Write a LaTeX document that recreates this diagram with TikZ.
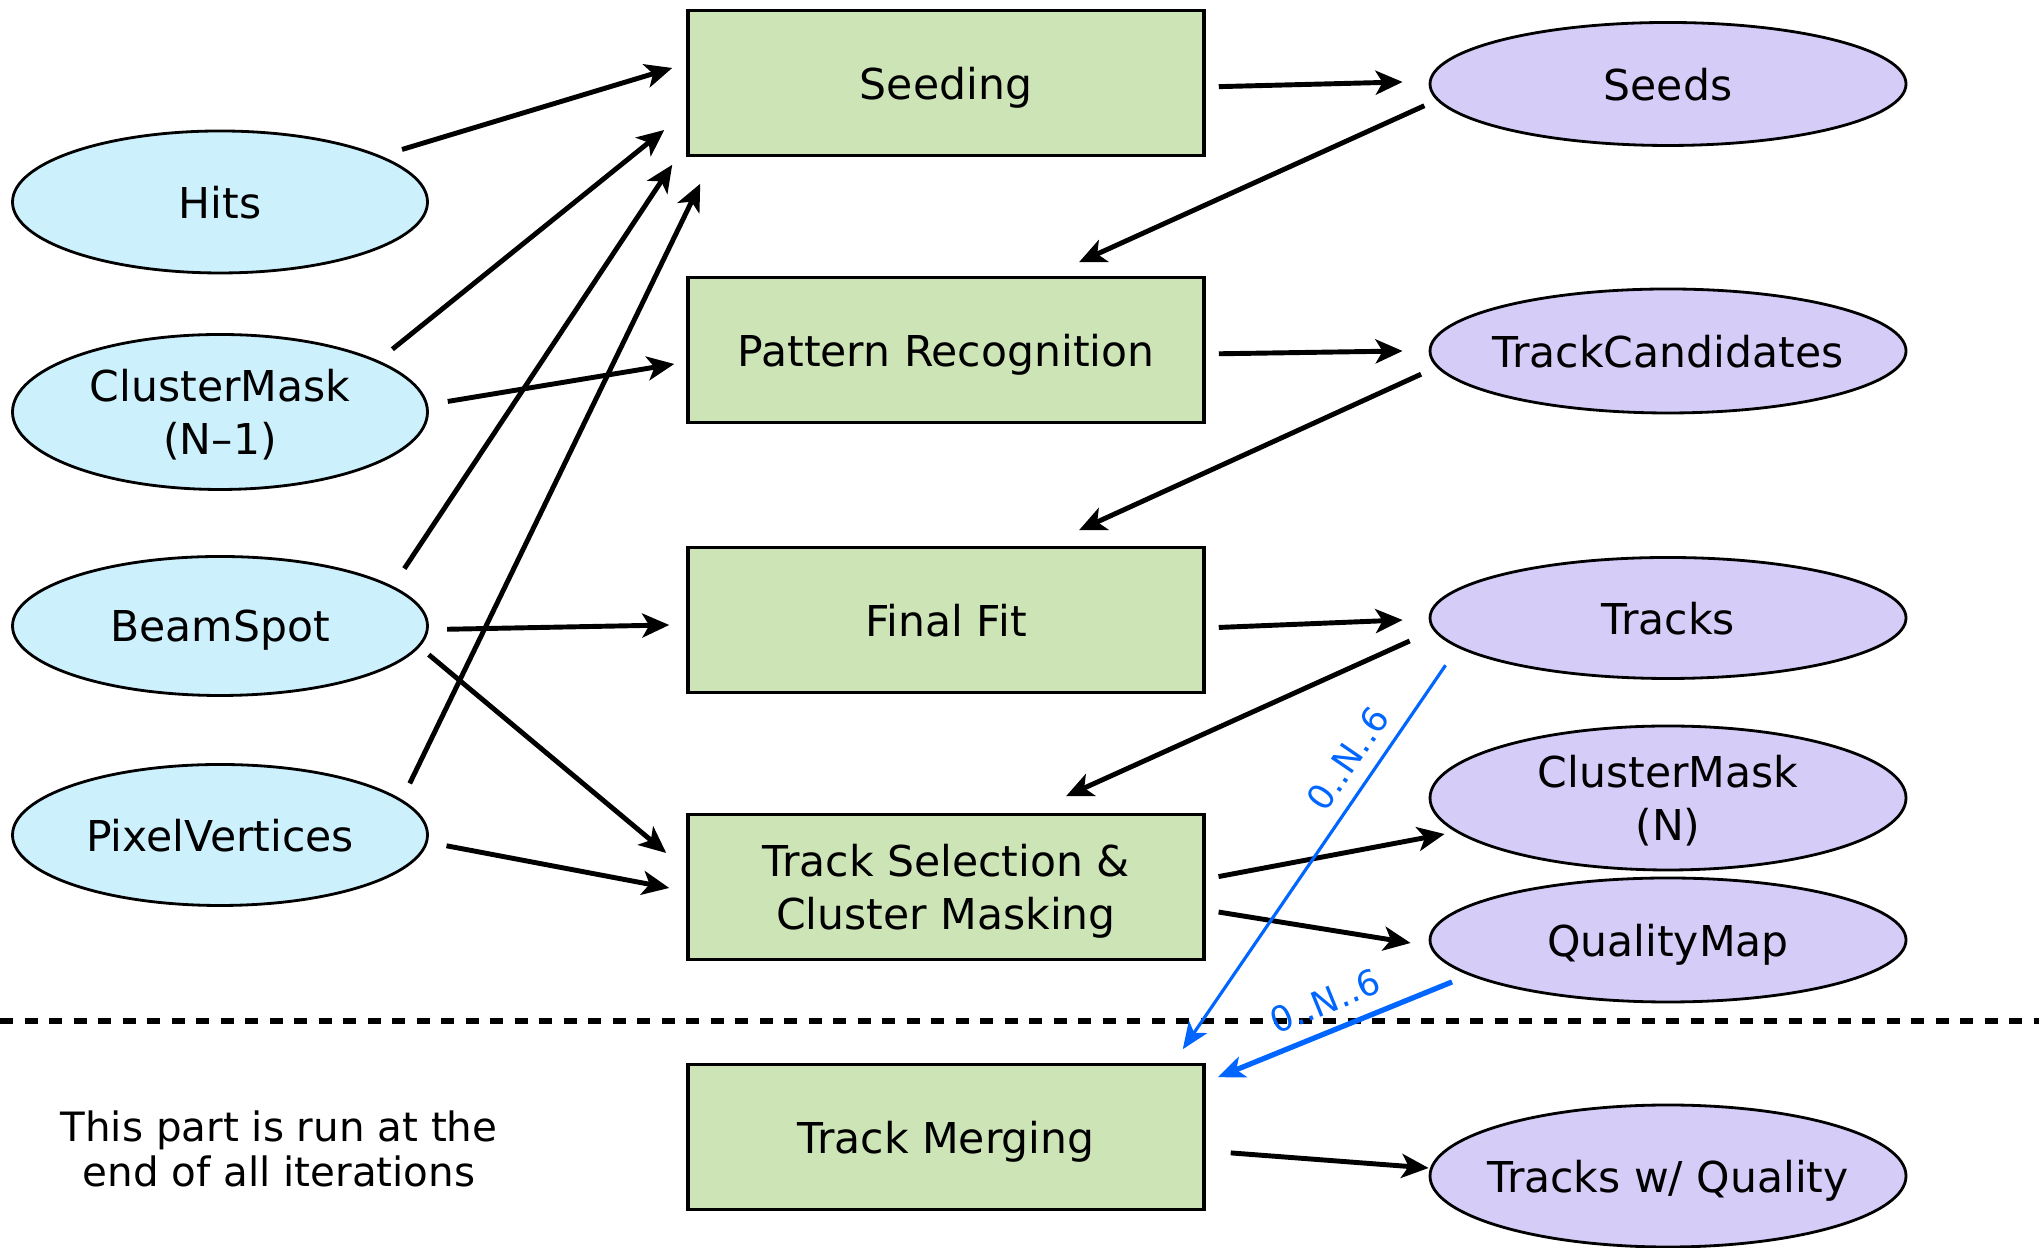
\documentclass[tikz,border=0pt]{standalone}
\usepackage{fontspec}
\setmainfont{DejaVu Sans}
\usepackage{tikz}
\usetikzlibrary{shapes.geometric,arrows.meta}

\definecolor{inblue}{RGB}{205,240,253}
\definecolor{outviolet}{RGB}{213,204,247}
\definecolor{stagegreen}{RGB}{205,228,183}
\definecolor{linkblue}{RGB}{0,102,255}
\newcommand{\boxfont}{\fontsize{12.1}{15}\selectfont}
\newcommand{\multfont}{\fontsize{10}{12}\selectfont}

\begin{document}
\begin{tikzpicture}
\tikzstyle{every node}+=[inner sep=0pt, font=\boxfont, align=center]
\tikzstyle{inobj}=[ellipse, draw, line width=0.8pt, fill=inblue, minimum width=4.15cm, minimum height=1.42cm, inner xsep=-3mm, text depth=0pt]
\tikzstyle{outobj}=[ellipse, draw, line width=0.8pt, fill=outviolet, minimum width=4.76cm, minimum height=1.23cm, inner xsep=-3mm, text depth=0pt]
\tikzstyle{stage}=[rectangle, draw, line width=1pt, fill=stagegreen, minimum width=5.16cm, minimum height=1.45cm, text depth=0pt]
\tikzstyle{flow}=[-{Stealth[length=2.7mm,width=2.4mm,inset=0.7mm]}, line width=1.4pt, shorten <=2mm]
\tikzstyle{multi}=[-{Stealth[length=2.7mm,width=2.2mm,inset=0.7mm]}, draw=linkblue]
\useasboundingbox (0,0) rectangle (20.39,12.48);

% processing steps
\node[stage] (seed) at (9.46,11.65) {Seeding};
\node[stage] (pat) at (9.46,8.98) {Pattern Recognition};
\node[stage] (fit) at (9.46,6.28) {Final Fit};
\node[stage] (sel) at (9.46,3.61) {Track Selection \&\\Cluster Masking};
\node[stage] (mrg) at (9.46,1.11) {Track Merging};

% inputs
\node[inobj] (hits) at (2.20,10.46) {Hits};
\node[inobj, minimum height=1.55cm] (cmold) at (2.20,8.36) {ClusterMask\\(N--1)};
\node[inobj, minimum height=1.39cm] (beam) at (2.20,6.22) {BeamSpot};
\node[inobj, minimum height=1.41cm] (pix) at (2.20,4.13) {PixelVertices};

% products
\node[outobj] (seeds) at (16.68,11.64) {Seeds};
\node[outobj, minimum height=1.24cm] (cands) at (16.68,8.97) {TrackCandidates};
\node[outobj, minimum height=1.21cm] (tracks) at (16.68,6.30) {Tracks};
\node[outobj, minimum height=1.44cm] (cmnew) at (16.68,4.50) {ClusterMask\\(N)};
\node[outobj, minimum height=1.24cm] (qmap) at (16.68,3.08) {QualityMap};
\node[outobj, minimum height=1.42cm] (twq) at (16.68,0.72) {Tracks w/ Quality};

\node[font=\fontsize{11.5}{13}\selectfont] (note) at (2.79,0.99) {This part is run at the\\end of all iterations};

% end of the iteration loop
\draw[line width=1.7pt, dash pattern=on 1.3mm off 1.15mm] (0,2.27) -- (20.39,2.27);

% inputs into the steps
\draw[flow, shorten <=2.2mm] (hits.16) -- ([xshift=-1.4mm,yshift=1.5mm]seed.west);
\draw[flow, shorten <=1.8mm] (cmold.18.6) -- ([xshift=-2.2mm,yshift=-4.7mm]seed.west);
\draw[flow] (cmold.2) -- ([xshift=-1.2mm,yshift=-1.4mm]pat.west);
\draw[flow, shorten <=2.1mm] (beam.13.4) -- ([xshift=-1.4mm,yshift=-0.75mm]seed.south west);
\draw[flow, shorten <=1.85mm] (beam.-1) -- ([xshift=-1.7mm,yshift=-0.5mm]fit.west);
\draw[flow, shorten <=1.2mm] (beam.-6) -- ([xshift=-2mm,yshift=3.4mm]sel.west);
\draw[flow, shorten <=1.8mm] (pix.11) -- ([xshift=1.4mm,yshift=-2.65mm]seed.south west);
\draw[flow, shorten <=1.9mm] (pix.-2) -- ([xshift=-1.7mm,yshift=-0.1mm]sel.west);

% step -> product -> next step
\draw[flow, shorten <=1.3mm] ([yshift=-0.4mm]seed.east) -- ([xshift=-2.6mm,yshift=0.2mm]seeds.west);
\draw[flow, shorten <=1.35mm] (seeds.184) -- ([xshift=13.3mm,yshift=1.35mm]pat.north);
\draw[flow, shorten <=1.3mm] ([yshift=-0.4mm]pat.east) -- ([xshift=-2.6mm]cands.west);
\draw[flow, shorten <=1.7mm] (cands.184.5) -- ([xshift=13.3mm,yshift=1.55mm]fit.north);
\draw[flow, shorten <=1.3mm] ([yshift=-0.8mm]fit.east) -- ([xshift=-2.6mm,yshift=-0.2mm]tracks.west);
\draw[flow, shorten <=2.6mm] (tracks.183.3) -- ([xshift=12mm,yshift=1.65mm]sel.north);
\draw[flow, shorten <=1.3mm] ([yshift=0.8mm]sel.east) -- ([xshift=1.6mm,yshift=-3.6mm]cmnew.west);
\draw[flow, shorten <=1.3mm] ([yshift=-2.3mm]sel.east) -- ([xshift=-1.8mm,yshift=-0.3mm]qmap.west);
\draw[flow, shorten <=2.5mm] ([yshift=-1.4mm]mrg.east) -- ([yshift=0.8mm]twq.west);

% collected from all iterations
\draw[multi, line width=0.9pt, shorten <=2.15mm] (tracks.188.4) -- ([xshift=-2.3mm,yshift=1.35mm]mrg.north east)
  node[pos=0.316, sloped, above=1.3mm, font=\multfont, text=linkblue] {0..N..6};
\draw[multi, line width=1.5pt, shorten <=1.8mm] (qmap.190.3) -- ([xshift=1.2mm,yshift=-1.45mm]mrg.north east)
  node[pos=0.527, sloped, above=1.4mm, font=\multfont, text=linkblue] {0..N..6};
\end{tikzpicture}
\end{document}
